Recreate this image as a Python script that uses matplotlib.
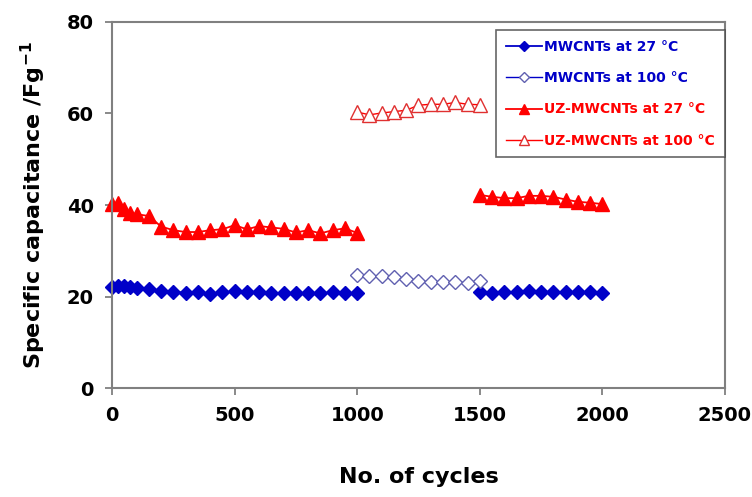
import numpy as np
import matplotlib
matplotlib.use("Agg")
import matplotlib.pyplot as plt

# ---- data ----
cycles_a = [0, 25, 50, 75, 100] + list(range(150, 1001, 50))
cycles_b = list(range(1000, 1501, 50))
cycles_c = list(range(1500, 2001, 50))

mw27_a = [22.2, 22.4, 22.3, 22.1, 21.9, 21.6, 21.3, 21.1, 20.8, 21.0, 20.6, 20.9,
          21.2, 21.0, 20.9, 20.8, 20.8, 20.8, 20.8, 20.8, 20.9, 20.8, 20.7]
mw27_c = [21.0, 20.8, 20.9, 21.0, 21.2, 21.1, 21.0, 21.0, 20.9, 20.9, 20.8]
mw100_b = [24.7, 24.5, 24.4, 24.3, 23.9, 23.5, 23.1, 23.1, 23.2, 23.0, 23.3]

uz27_a = [40.3, 40.4, 39.1, 38.3, 38.0, 37.6, 35.3, 34.5, 34.1, 34.1, 34.5, 34.7,
          35.6, 34.7, 35.4, 35.1, 34.8, 34.0, 34.5, 33.8, 34.5, 34.9, 33.9]
uz27_c = [42.2, 41.8, 41.5, 41.5, 42.0, 42.0, 41.8, 41.2, 40.7, 40.5, 40.2]
uz100_b = [60.3, 59.7, 60.1, 60.4, 60.7, 61.8, 62.0, 62.0, 62.4, 62.0, 61.9]

labels = ["MWCNTs at 27 °C", "MWCNTs at 100 °C", "UZ-MWCNTs at 27 °C", "UZ-MWCNTs at 100 °C"]
xticks = [0, 500, 1000, 1500, 2000, 2500]
yticks = [0, 20, 40, 60, 80]

blue = "#0000c8"
blue_edge = "#6060b0"
red = "#ff0000"
red_edge = "#e03030"

fig = plt.figure(figsize=(7.52, 4.97), dpi=100)
ax = fig.add_axes([0.149, 0.219, 0.815, 0.737])

dms = 7.5
tms = 10.5
ax.plot(cycles_a, mw27_a, color=blue, lw=1.3, marker="D", ms=dms, mfc=blue, mec=blue, label=labels[0], clip_on=False)
ax.plot(cycles_c, mw27_c, color=blue, lw=1.3, marker="D", ms=dms, mfc=blue, mec=blue, clip_on=False)
ax.plot(cycles_b, mw100_b, color=blue, lw=1.0, marker="D", ms=dms, mfc="white", mec=blue_edge, mew=1.0, label=labels[1], clip_on=False)
ax.plot(cycles_a, uz27_a, color=red, lw=1.3, marker="^", ms=tms, mfc=red, mec=red, label=labels[2], clip_on=False)
ax.plot(cycles_c, uz27_c, color=red, lw=1.3, marker="^", ms=tms, mfc=red, mec=red, clip_on=False)
ax.plot(cycles_b, uz100_b, color=red, lw=1.0, marker="^", ms=tms, mfc="white", mec=red_edge, mew=1.0, label=labels[3], clip_on=False)

ax.set_xlim(0, 2500)
ax.set_ylim(0, 80)
ax.set_xticks(xticks)
ax.set_yticks(yticks)
ax.set_xticklabels([str(t) for t in xticks], fontsize=14, fontweight="bold")
ax.set_yticklabels([str(t) for t in yticks], fontsize=14, fontweight="bold")
ax.tick_params(direction="out", length=5, width=1.3, color="#808080", pad=8)
for s in ax.spines.values():
    s.set_color("#808080")
    s.set_linewidth(1.5)

ax.set_xlabel("No. of cycles", fontsize=16, fontweight="bold", labelpad=30)
ax.set_ylabel("Specific capacitance /Fg$^{\\mathbf{-1}}$", fontsize=16, fontweight="bold", labelpad=14)

leg = ax.legend(loc="upper right", bbox_to_anchor=(1.0, 0.978),
                prop={"weight": "bold", "size": 10}, frameon=True, fancybox=False,
                edgecolor="#404040", handlelength=2.6, handletextpad=0.2,
                labelspacing=1.25, borderpad=0.7, borderaxespad=0.0, markerscale=0.7)
leg.get_frame().set_linewidth(1.2)
for txt, col in zip(leg.get_texts(), [blue, blue, red, red]):
    txt.set_color(col)

fig.savefig("out.png", dpi=100)
